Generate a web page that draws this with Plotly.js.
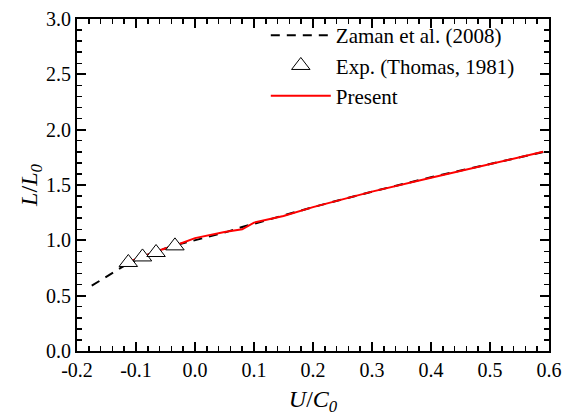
<!DOCTYPE html>
<html>
<head>
<meta charset="utf-8">
<script src="https://cdn.plot.ly/plotly-3.0.1.min.js"></script>
<style>html,body{margin:0;padding:0;background:#fff;}#chart{width:562px;height:419px;}</style>
</head>
<body>
<div id="chart"></div>
<script>
// Zaman et al. (2008) - dashed black
const zamanX = [-0.175, -0.15, -0.12, -0.09, -0.06, -0.03, 0.0, 0.05, 0.08, 0.10, 0.15, 0.20, 0.30, 0.40, 0.50, 0.60];
const zamanY = [0.59, 0.67, 0.77, 0.85, 0.91, 0.96, 1.00, 1.07, 1.12, 1.15, 1.23, 1.30, 1.44, 1.57, 1.69, 1.81];
// Exp. (Thomas, 1981) - triangles
const expX = [-0.113, -0.089, -0.066, -0.034];
const expY = [0.80, 0.85, 0.89, 0.95];
// Present - red
const presentX = [-0.115, -0.09, -0.06, -0.03, -0.01, 0.0, 0.05, 0.08, 0.10, 0.15, 0.20, 0.30, 0.40, 0.50, 0.59];
const presentY = [0.80, 0.85, 0.91, 0.96, 1.00, 1.02, 1.075, 1.10, 1.16, 1.22, 1.30, 1.44, 1.565, 1.69, 1.80];
// Tick labels
const xTickVals = [-0.2, -0.1, 0.0, 0.1, 0.2, 0.3, 0.4, 0.5, 0.6];
const xTickText = ['-0.2', '-0.1', '0.0', '0.1', '0.2', '0.3', '0.4', '0.5', '0.6'];
const yTickVals = [0, 0.5, 1.0, 1.5, 2.0, 2.5, 3.0];
const yTickText = ['0.0', '0.5', '1.0', '1.5', '2.0', '2.5', '3.0'];

const traces = [
  {x: zamanX, y: zamanY, mode: 'lines', name: 'Zaman et al. (2008)',
   line: {color: '#000000', width: 2, dash: '9px,7px'}},
  {x: presentX, y: presentY, mode: 'lines', name: 'Present',
   line: {color: '#ff0000', width: 2}, showlegend: false},
  {x: expX, y: expY, mode: 'markers', name: 'Exp. (Thomas, 1981)',
   marker: {symbol: 'triangle-up', size: 16, color: '#ffffff', line: {color: '#000000', width: 1}}},
  {x: [null], y: [null], mode: 'lines', name: 'Present',
   line: {color: '#ff0000', width: 2}}
];

const layout = {
  width: 562, height: 419,
  margin: {l: 77, r: 13, t: 19, b: 68},
  paper_bgcolor: '#ffffff', plot_bgcolor: '#ffffff',
  font: {family: 'serif', size: 18, color: '#000000'},
  xaxis: {
    showgrid: false, zeroline: false, showline: true, linecolor: '#000000', linewidth: 2,
    mirror: 'ticks', ticks: 'inside', ticklen: 9, tickwidth: 2, tickcolor: '#000000',
    tickfont: {family: 'serif', size: 20, color: '#000000'},
    range: [-0.2, 0.6], tickmode: 'array', tickvals: xTickVals, ticktext: xTickText,
    minor: {tickmode: 'linear', tick0: 0, dtick: 0.02, ticks: 'inside', ticklen: 5, tickwidth: 1.5, tickcolor: '#000000'},
    title: {text: '<i>U</i>/<i>C</i><sub><i>0</i></sub>', font: {family: 'serif', size: 24, color: '#000000'}, standoff: 10}
  },
  yaxis: {
    showgrid: false, zeroline: false, showline: true, linecolor: '#000000', linewidth: 2,
    mirror: 'ticks', ticks: 'inside', ticklen: 9, tickwidth: 2, tickcolor: '#000000',
    tickfont: {family: 'serif', size: 20, color: '#000000'},
    range: [0, 3.0], tickmode: 'array', tickvals: yTickVals, ticktext: yTickText,
    minor: {tickmode: 'linear', tick0: 0, dtick: 0.1, ticks: 'inside', ticklen: 5, tickwidth: 1.5, tickcolor: '#000000'},
    title: {text: '<i>L</i>/<i>L</i><sub><i>0</i></sub>', font: {family: 'serif', size: 24, color: '#000000'}, standoff: 2}
  },
  legend: {x: 0.40, y: 1.012, xanchor: 'left', yanchor: 'top', bgcolor: 'rgba(0,0,0,0)',
           font: {family: 'serif', size: 21, color: '#000000'}, itemwidth: 60, tracegroupgap: 0},
  showlegend: true
};

Plotly.newPlot('chart', traces, layout, {displayModeBar: false, staticPlot: true});
</script>
</body>
</html>
